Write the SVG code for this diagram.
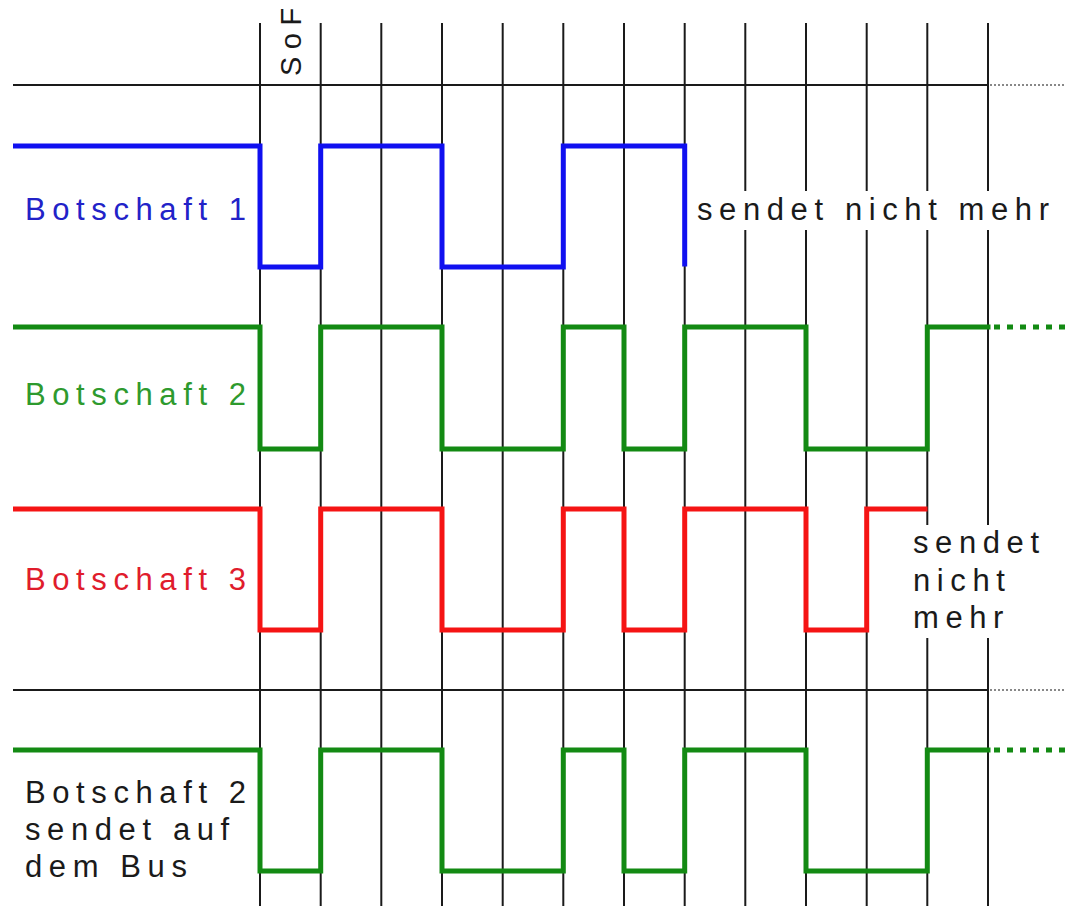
<svg xmlns="http://www.w3.org/2000/svg" width="1066" height="906" viewBox="0 0 1066 906">
  <style>
    .grid { stroke: #1a1a1a; stroke-width: 2; fill: none; }
    .dotgrey { stroke: #888; stroke-width: 2; stroke-dasharray: 2 2; fill: none; }
    .sig { fill: none; stroke-width: 5; stroke-linejoin: miter; stroke-linecap: square; }
    .blue { stroke: #1010f0; }
    .green { stroke: #138a13; }
    .red { stroke: #f51414; }
    .dotgreen { stroke: #138a13; stroke-width: 5; stroke-dasharray: 6 7; fill: none; }
    .lbl { font-family: "Liberation Sans", Arial, sans-serif; font-size: 31px; letter-spacing: 6.6px; }
    .mask { fill: #ffffff; }
  </style>

  <!-- time grid: bit boundaries -->
  <g id="grid">
    <g class="grid">
      <line x1="260" y1="23" x2="260" y2="906"/>
      <line x1="320.7" y1="23" x2="320.7" y2="906"/>
      <line x1="381.3" y1="23" x2="381.3" y2="906"/>
      <line x1="442" y1="23" x2="442" y2="906"/>
      <line x1="502.7" y1="23" x2="502.7" y2="906"/>
      <line x1="563.3" y1="23" x2="563.3" y2="906"/>
      <line x1="624" y1="23" x2="624" y2="906"/>
      <line x1="684.7" y1="23" x2="684.7" y2="906"/>
      <line x1="745.3" y1="23" x2="745.3" y2="906"/>
      <line x1="806" y1="23" x2="806" y2="906"/>
      <line x1="866.7" y1="23" x2="866.7" y2="906"/>
      <line x1="927.3" y1="23" x2="927.3" y2="906"/>
      <line x1="988" y1="23" x2="988" y2="906"/>
      <line x1="13" y1="85" x2="988" y2="85"/>
      <line x1="13" y1="690" x2="988" y2="690"/>
    </g>
    <line class="dotgrey" x1="990" y1="85" x2="1066" y2="85"/>
    <line class="dotgrey" x1="990" y1="690" x2="1066" y2="690"/>
  </g>

  <!-- backgrounds that interrupt the grid behind right-hand notes -->
  <rect class="mask" x="692" y="191" width="364" height="39"/>
  <rect class="mask" x="905" y="525" width="150" height="113"/>

  <g id="sof-label">
    <text class="lbl" x="0" y="0" fill="#1a1a1a" transform="translate(301 76) rotate(-90)" style="font-size:29px;letter-spacing:7.5px">SoF</text>
  </g>

  <g id="connectors">
    <path id="msg1-wave" class="sig blue" d="M15.5 146 H260 V267 H320.7 V146 H442 V267 H563.3 V146 H684.7 V264"/>
    <path id="msg2-wave" class="sig green" d="M15.5 327 H260 V449 H320.7 V327 H442 V449 H563.3 V327 H624 V449 H684.7 V327 H806 V449 H927.3 V327 H988"/>
    <line class="dotgreen" x1="994" y1="327" x2="1066" y2="327"/>
    <path id="msg3-wave" class="sig red" d="M15.5 509 H260 V630 H320.7 V509 H442 V630 H563.3 V509 H624 V630 H684.7 V509 H806 V630 H866.7 V509 H925"/>
    <path id="bus-wave" class="sig green" d="M15.5 750 H260 V871 H320.7 V750 H442 V871 H563.3 V750 H624 V871 H684.7 V750 H806 V871 H927.3 V750 H988"/>
    <line class="dotgreen" x1="994" y1="750" x2="1066" y2="750"/>
  </g>

  <g id="msg1">
    <text class="lbl" x="25" y="220" fill="#2222c8">Botschaft 1</text>
    <text class="lbl" x="697" y="220" fill="#1a1a1a">sendet nicht mehr</text>
  </g>
  <g id="msg2">
    <text class="lbl" x="25" y="405" fill="#2e9a2e">Botschaft 2</text>
  </g>
  <g id="msg3">
    <text class="lbl" x="25" y="590" fill="#e01c2c">Botschaft 3</text>
    <text class="lbl" x="913" y="553" fill="#1a1a1a">sendet</text>
    <text class="lbl" x="913" y="591" fill="#1a1a1a">nicht</text>
    <text class="lbl" x="913" y="628" fill="#1a1a1a">mehr</text>
  </g>
  <g id="bus">
    <text class="lbl" x="25" y="803" fill="#1a1a1a">Botschaft 2</text>
    <text class="lbl" x="25" y="840" fill="#1a1a1a">sendet auf</text>
    <text class="lbl" x="25" y="877" fill="#1a1a1a">dem Bus</text>
  </g>
</svg>
